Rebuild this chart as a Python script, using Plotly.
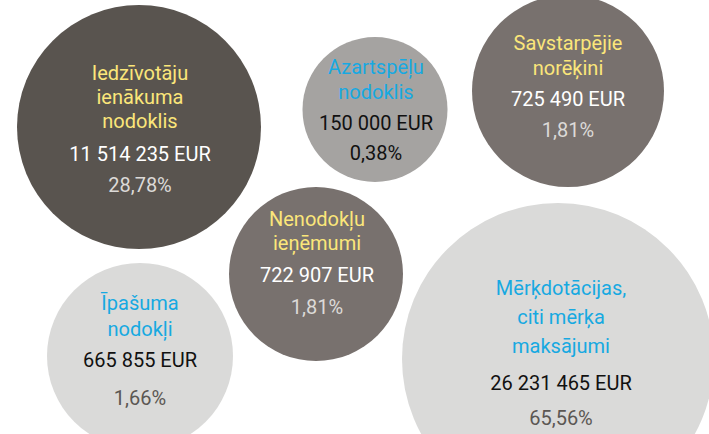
import plotly.graph_objects as go

# ---- data ----
categories = ["Iedzīvotāju ienākuma nodoklis", "Azartspēļu nodoklis", "Savstarpējie norēķini",
              "Nenodokļu ieņēmumi", "Īpašuma nodokļi", "Mērķdotācijas, citi mērķa maksājumi"]
title_lines = [["Iedzīvotāju", "ienākuma", "nodoklis"],
               ["Azartspēļu", "nodoklis"],
               ["Savstarpējie", "norēķini"],
               ["Nenodokļu", "ieņēmumi"],
               ["Īpašuma", "nodokļi"],
               ["Mērķdotācijas,", "citi mērķa", "maksājumi"]]
amounts_eur = [11514235, 150000, 725490, 722907, 665855, 26231465]
shares_pct = [28.78, 0.38, 1.81, 1.81, 1.66, 65.56]

# ---- layout (pixel design of the infographic) ----
W, H = 709, 434
bubble_cx = [139, 375, 568, 316, 140, 558]
bubble_cy = [127, 109.5, 91, 274, 356, 359]
bubble_r = [122, 72.5, 96, 87, 93, 156]
title_cy = [99, 81.5, 57.5, 233, 318, 319]
line_gap = [24, 25, 25, 24, 26, 29]
value_y = [156, 125, 101, 277, 362, 385]
pct_y = [187, 155, 132, 309, 400, 420]
text_cx = [140, 376, 568, 317, 140, 561]

bubble_color = ["#59544f", "#a5a3a1", "#78716e", "#78716e", "#dadad9", "#dadad9"]
title_color = ["#fbe67a", "#17a9e1", "#fbe67a", "#fbe67a", "#17a9e1", "#17a9e1"]
value_color = ["#ffffff", "#111111", "#ffffff", "#ffffff", "#111111", "#111111"]
pct_color = ["#dcdad8", "#111111", "#dcdad8", "#dcdad8", "#5b5753", "#5b5753"]

FONT = "Roboto"
FS = 20
FW = 400


def fmt_amount(v):
    return f"{v:,}".replace(",", " ") + " EUR"


def fmt_pct(p):
    return f"{p:.2f}".replace(".", ",") + "%"


fig = go.Figure()
fig.add_trace(go.Scatter(
    x=bubble_cx, y=bubble_cy, mode="markers",
    marker=dict(size=[2 * r for r in bubble_r], color=bubble_color, opacity=1,
                line=dict(width=0)),
    hoverinfo="text", text=categories, showlegend=False))

# title lines
tx, ty, tt, tc = [], [], [], []
for i, lines in enumerate(title_lines):
    n = len(lines)
    for j, ln in enumerate(lines):
        tx.append(text_cx[i])
        ty.append(title_cy[i] + (j - (n - 1) / 2) * line_gap[i])
        tt.append(ln)
        tc.append(title_color[i])
fig.add_trace(go.Scatter(x=tx, y=ty, mode="text", text=tt,
                         textfont=dict(family=FONT, size=FS, color=tc, weight=FW),
                         textposition="middle center", hoverinfo="skip", showlegend=False))
fig.add_trace(go.Scatter(x=text_cx, y=value_y, mode="text",
                         text=[fmt_amount(v) for v in amounts_eur],
                         textfont=dict(family=FONT, size=FS, color=value_color, weight=FW),
                         textposition="middle center", hoverinfo="skip", showlegend=False))
fig.add_trace(go.Scatter(x=text_cx, y=pct_y, mode="text",
                         text=[fmt_pct(p) for p in shares_pct],
                         textfont=dict(family=FONT, size=FS, color=pct_color, weight=FW),
                         textposition="middle center", hoverinfo="skip", showlegend=False))

fig.update_layout(
    width=W, height=H, margin=dict(l=0, r=0, t=0, b=0),
    paper_bgcolor="white", plot_bgcolor="white",
    xaxis=dict(range=[0, W], visible=False, fixedrange=True),
    yaxis=dict(range=[H, 0], visible=False, fixedrange=True),
)
fig.write_html("out.html", config={"displayModeBar": False},
               post_script="document.body.style.margin='0';document.body.style.overflow='hidden';")
